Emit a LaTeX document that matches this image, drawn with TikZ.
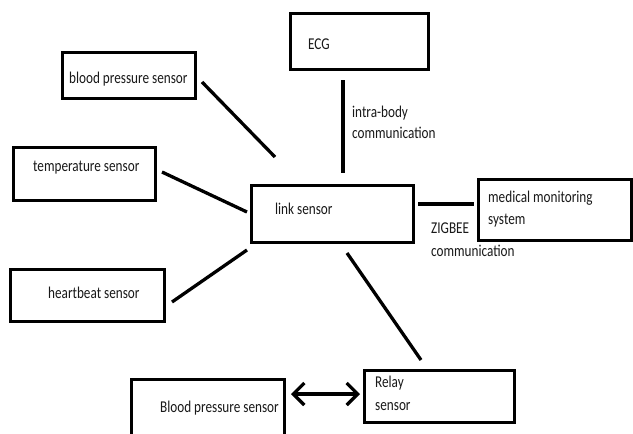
\documentclass[tikz,border=0pt]{standalone}
\usepackage{fontspec}
\setmainfont{Carlito}[FakeStretch=0.8]
\usetikzlibrary{arrows.meta}
\begin{document}
\begin{tikzpicture}[x=1pt,y=-1pt,
  box/.style={draw=black,line width=3.3pt,rectangle,inner sep=0pt},
  txt/.style={font=\fontsize{16.5}{19}\selectfont,text=black!90,inner sep=0pt,anchor=base west},
  conn/.style={draw=black,line width=3.3pt},
  dbl/.style={draw=black,line width=3.3pt,{Straight Barb[length=11pt,width=22pt,line width=3.3pt]}-{Straight Barb[length=11pt,width=22pt,line width=3.3pt]}}]
\clip (0,0) rectangle (633,434);
\fill[white] (0,0) rectangle (633,434);
% boxes
\node[box,minimum width=138pt,minimum height=56pt] (ecg) at (359.5,41.5) {};
\node[box,minimum width=133pt,minimum height=46pt] (bps) at (129,75.5) {};
\node[box,minimum width=142pt,minimum height=53pt] (temp) at (84.5,174) {};
\node[box,minimum width=162pt,minimum height=57pt] (link) at (332.5,214) {};
\node[box,minimum width=153pt,minimum height=61pt] (med) at (555,210) {};
\node[box,minimum width=154pt,minimum height=52pt] (hb) at (87.5,295.5) {};
\node[box,minimum width=153pt,minimum height=69pt] (bp2) at (208,414) {};
\node[box,minimum width=150pt,minimum height=52pt] (relay) at (439.5,396.5) {};
% texts
\node[txt] (tecg) at (308,49) {ECG};
\node[txt] (tbps) at (69,83) {blood pressure sensor};
\node[txt] (ttemp) at (33,171) {temperature sensor};
\node[txt] (tlink) at (275,214) {link sensor};
\node[txt] (tmed1) at (488,202) {medical monitoring};
\node[txt] (tmed2) at (488,224) {system};
\node[txt] (thb) at (48,298) {heartbeat sensor};
\node[txt] (tbp2) at (160,412) {Blood pressure sensor};
\node[txt] (trel1) at (375,387) {Relay};
\node[txt] (trel2) at (375,410) {sensor};
\node[txt] (tib1) at (352,117) {intra-body};
\node[txt] (tib2) at (352,138) {communication};
\node[txt] (tzb1) at (431,233) {ZIGBEE};
\node[txt] (tzb2) at (431,256) {communication};
% connector end points
\coordinate (c1a) at (202,82);  \coordinate (c1b) at (275,157);
\coordinate (c2a) at (162,172); \coordinate (c2b) at (247,212);
\coordinate (c3a) at (172,302); \coordinate (c3b) at (247,250);
\coordinate (c4a) at (343,80);  \coordinate (c4b) at (343,173);
\coordinate (c5a) at (418,204); \coordinate (c5b) at (474,204);
\coordinate (c6a) at (347,253); \coordinate (c6b) at (421,360);
\coordinate (c7a) at (291,394); \coordinate (c7b) at (360,394);
\draw[conn] (c1a) -- (c1b);
\draw[conn] (c2a) -- (c2b);
\draw[conn] (c3a) -- (c3b);
\draw[conn] (c4a) -- (c4b);
\draw[conn] (c5a) -- (c5b);
\draw[conn] (c6a) -- (c6b);
\draw[dbl] (c7a) -- (c7b);
\end{tikzpicture}
\end{document}
